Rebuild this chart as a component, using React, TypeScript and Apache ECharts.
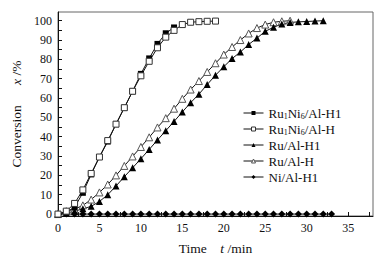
import React, { useEffect, useRef } from "react";
import * as echarts from "echarts";

const timeRuNiH1 = [0, 1, 2, 3, 4, 5, 6, 7, 8, 9, 10, 11, 12, 13, 14];
const convRuNiH1 = [0, 1, 3.5, 11, 20.5, 29.5, 37.5, 46.5, 55, 63.5, 72.5, 80.5, 88, 93.5, 96.5];

const timeRuNiH = [0, 1, 2, 3, 4, 5, 6, 7, 8, 9, 10, 11, 12, 13, 14, 15, 16, 17, 18, 19];
const convRuNiH = [0, 1.5, 5.5, 12.5, 21, 29.5, 38, 46.5, 55, 63.5, 71.5, 79, 86, 91.5, 95, 98, 99.2, 99.5, 99.7, 99.8];

const timeRuH1 = [0, 1, 2, 3, 4, 5, 6, 7, 8, 9, 10, 11, 12, 13, 14, 15, 16, 17, 18, 19, 20, 21, 22, 23, 24, 25, 26, 27, 28, 29, 30, 31, 32];
const convRuH1 = [0, 0.5, 1.5, 2.7, 4, 6.5, 10, 14.5, 19.3, 23.9, 28.6, 33.4, 38.3, 43.1, 47.9, 52.8, 57.6, 62, 67, 71.8, 76.2, 80.4, 83.8, 87.7, 91, 94.5, 96.6, 98.3, 99.1, 99.4, 99.6, 99.8, 100];

const timeRuH = [0, 1, 2, 3, 4, 5, 6, 7, 8, 9, 10, 11, 12, 13, 14, 15, 16, 17, 18, 19, 20, 21, 22, 23, 24, 25, 26, 27, 28];
const convRuH = [0, 1.5, 2.5, 4.5, 7.5, 11.2, 15.3, 20, 24.9, 29.8, 34.7, 39.7, 44.8, 49.6, 54.5, 59.6, 64.4, 68.8, 73.5, 78, 82.5, 86.4, 90, 93.4, 96.2, 98, 99.2, 99.7, 100];

const timeNiH1 = [0, 1, 2, 3, 4, 5, 6, 7, 8, 9, 10, 11, 12, 13, 14, 15, 16, 17, 18, 19, 20, 21, 22, 23, 24, 25, 26, 27, 28, 29, 30, 31, 32, 33];
const convNiH1 = [0, 0, 0, 0, 0, 0, 0, 0, 0, 0, 0, 0, 0, 0, 0, 0, 0, 0, 0, 0, 0, 0, 0, 0, 0, 0, 0, 0, 0, 0, 0, 0, 0, 0];

const seriesNames = ["Ru1Ni6/Al-H1", "Ru1Ni6/Al-H", "Ru/Al-H1", "Ru/Al-H", "Ni/Al-H1"];
const xLabelValues = [0, 5, 10, 15, 20, 25, 30, 35];
const xTickValues = [0, 2.5, 5, 7.5, 10, 12.5, 15, 17.5, 20, 22.5, 25, 27.5, 30, 32.5, 35, 37.5];
const yLabelValues = [0, 10, 20, 30, 40, 50, 60, 70, 80, 90, 100];
const yTickValues = [0, 5, 10, 15, 20, 25, 30, 35, 40, 45, 50, 55, 60, 65, 70, 75, 80, 85, 90, 95, 100];

const FONT = "Liberation Serif";
const FS = 12;
const FN = 13.5;
const FL = 13;
const NB = "\u00a0";

function zip(t: number[], v: number[]) {
  return t.map((x, i) => [x, v[i]]);
}

export default function App() {
  const ref = useRef<HTMLDivElement>(null);
  useEffect(() => {
    if (!ref.current) return;
    const chart = echarts.init(ref.current, null, { renderer: "svg" });
    const lineStyle = { color: "#111", width: 1 };
    const mk = (
      name: string,
      t: number[],
      v: number[],
      symbol: string,
      size: number,
      filled: boolean,
      border: string
    ) => ({
      name,
      type: "line",
      data: zip(t, v),
      symbol,
      symbolSize: size,
      showAllSymbol: true,
      lineStyle,
      itemStyle: filled
        ? { color: "#000", borderColor: "#000", borderWidth: 0 }
        : { color: "#fff", borderColor: border, borderWidth: 1 },
      z: 2,
    });
    const legendItem = (name: string, filled: boolean, border: string) => ({
      name,
      itemStyle: filled
        ? { color: "#000", borderColor: "#000", borderWidth: 0 }
        : { color: "#fff", borderColor: border, borderWidth: 1 },
      lineStyle: { color: "#111", width: 1 },
    });
    chart.setOption({
      animation: false,
      backgroundColor: "#fff",
      grid: {
        left: 58,
        top: 12,
        right: 18,
        bottom: 42,
        show: true,
        borderColor: "#666",
        borderWidth: 1,
        containLabel: false,
      },
      legend: {
        orient: "vertical",
        left: 243,
        top: 106,
        padding: 0,
        itemWidth: 20,
        itemHeight: 5,
        itemGap: 2,
        data: [
          legendItem(seriesNames[0], true, "#000"),
          legendItem(seriesNames[1], false, "#333"),
          legendItem(seriesNames[2], true, "#000"),
          legendItem(seriesNames[3], false, "#555"),
          legendItem(seriesNames[4], true, "#000"),
        ],
        textStyle: {
          fontFamily: FONT,
          fontSize: FL,
          color: "#111",
          lineHeight: 14,
          rich: {
            s: { fontFamily: FONT, fontSize: 8, color: "#111", padding: [6, 0, 0, 0] },
          },
        },
        formatter: (n: string) =>
          n.startsWith("Ru1Ni6") ? "Ru{s|1}Ni{s|6}" + n.slice(6) : n,
      },
      xAxis: {
        type: "value",
        min: 0,
        max: 38,
        name: "Time" + NB.repeat(4) + "{i|t} /min",
        nameLocation: "middle",
        nameGap: 25,
        nameTextStyle: {
          fontFamily: FONT,
          fontSize: FN,
          color: "#111",
          rich: { i: { fontFamily: FONT, fontSize: FN, fontStyle: "italic", color: "#111" } },
        },
        axisLine: { onZero: false, lineStyle: { color: "#111", width: 1 } },
        axisTick: { inside: true, length: 4, customValues: xTickValues, lineStyle: { color: "#111" } },
        axisLabel: {
          customValues: xLabelValues,
          margin: 6,
          fontFamily: FONT,
          fontSize: FS,
          color: "#111",
        },
        splitLine: { show: false },
      },
      yAxis: {
        type: "value",
        min: -1,
        max: 104.5,
        name: "Conversion" + NB.repeat(6) + "{i|x} /%",
        nameLocation: "middle",
        nameGap: 27,
        nameTextStyle: {
          fontFamily: FONT,
          fontSize: FN,
          color: "#111",
          rich: { i: { fontFamily: FONT, fontSize: FN, fontStyle: "italic", color: "#111" } },
        },
        axisLine: { show: true, onZero: false, lineStyle: { color: "#111", width: 1 } },
        axisTick: { show: true, inside: true, length: 4, customValues: yTickValues, lineStyle: { color: "#111" } },
        axisLabel: {
          customValues: yLabelValues,
          margin: 6,
          fontFamily: FONT,
          fontSize: FS,
          color: "#111",
        },
        splitLine: { show: false },
      },
      series: [
        mk(seriesNames[4], timeNiH1, convNiH1, "diamond", 7, true, "#000"),
        mk(seriesNames[3], timeRuH, convRuH, "triangle", 7, false, "#555"),
        mk(seriesNames[2], timeRuH1, convRuH1, "triangle", 7, true, "#000"),
        mk(seriesNames[0], timeRuNiH1, convRuNiH1, "rect", 6, true, "#000"),
        mk(seriesNames[1], timeRuNiH, convRuNiH, "rect", 6, false, "#333"),
      ],
    });
    return () => chart.dispose();
  }, []);
  return (
    <div
      ref={ref}
      style={{ position: "absolute", left: 0, top: 0, width: 391, height: 260 }}
    />
  );
}
